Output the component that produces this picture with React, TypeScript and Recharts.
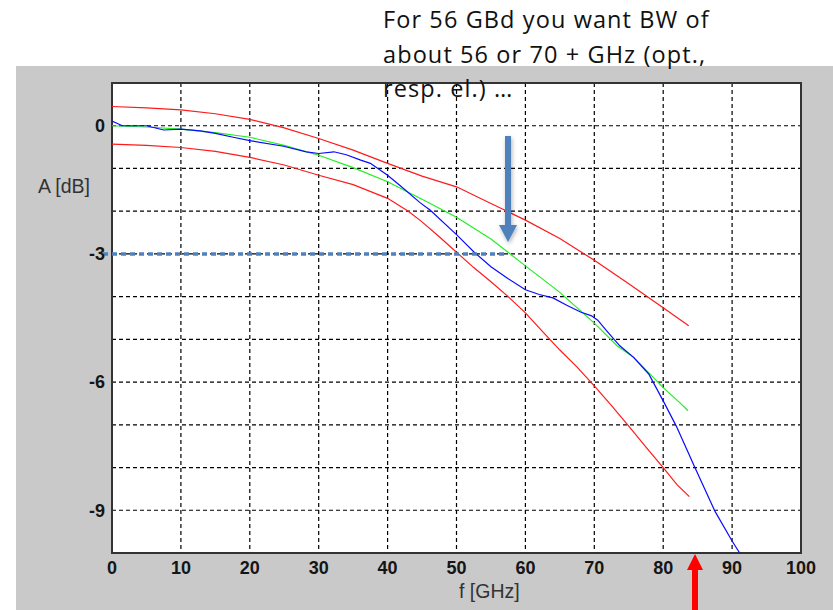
import { LineChart, Line, XAxis, YAxis, CartesianGrid, ReferenceArea, ReferenceLine } from "recharts";

// frequency grid / values (GHz, dB)
const UPPER_F = [0, 5, 10, 15, 20, 25, 30, 35, 40, 45, 50, 55, 60, 65, 70, 75, 80, 83.7];
const UPPER_A = [0.45, 0.42, 0.37, 0.28, 0.15, -0.05, -0.3, -0.57, -0.88, -1.18, -1.43, -1.82, -2.21, -2.64, -3.15, -3.7, -4.26, -4.68];

const LOWER_F = [0, 5, 10, 15, 20, 25, 30, 35, 40, 43, 45, 47.5, 50, 52.5, 55, 57.5, 60, 62.5, 65, 67.5, 70, 72.5, 75, 77.5, 80, 82, 83.8];
const LOWER_A = [-0.43, -0.46, -0.51, -0.6, -0.74, -0.92, -1.16, -1.38, -1.7, -2.0, -2.25, -2.6, -2.96, -3.32, -3.65, -4.0, -4.38, -4.82, -5.25, -5.65, -6.09, -6.55, -7.03, -7.52, -8.0, -8.4, -8.68];

const GREEN_F = [0, 5, 10, 15, 20, 25, 30, 35, 40, 45, 50, 55, 60, 65, 70, 73.3, 75.7, 77.6, 80, 82.4, 83.6];
const GREEN_A = [0, -0.03, -0.08, -0.16, -0.27, -0.46, -0.69, -0.98, -1.31, -1.72, -2.14, -2.65, -3.28, -3.9, -4.62, -5.15, -5.42, -5.73, -6.13, -6.48, -6.67];

const BLUE_F = [0, 1.5, 5, 7.5, 10, 12.8, 15, 17.6, 20, 24.9, 28.2, 30, 32.2, 34, 36, 37.5, 40, 41.8, 44.7, 46.2, 50, 52.5, 55, 57.5, 60, 62, 64, 66, 68, 69.6, 70.5, 71.8, 73.7, 75.7, 77.9, 80, 81.9, 84.6, 87.5, 90, 91.1];
const BLUE_A = [0.11, 0.0, 0.0, -0.1, -0.08, -0.12, -0.18, -0.27, -0.35, -0.48, -0.61, -0.65, -0.61, -0.68, -0.8, -0.88, -1.16, -1.4, -1.8, -1.98, -2.55, -2.95, -3.3, -3.58, -3.84, -3.95, -4.03, -4.2, -4.36, -4.45, -4.55, -4.8, -5.15, -5.42, -5.81, -6.44, -7.03, -8.0, -9.02, -9.72, -10.0];

const X_TICKS = [0, 10, 20, 30, 40, 50, 60, 70, 80, 90, 100];
const Y_TICKS = [-10, -9, -8, -7, -6, -5, -4, -3, -2, -1, 0, 1];
const Y_LABELED = [0, -3, -6, -9];

const THRESHOLD_DB = -3;
const THRESHOLD_END_F = 57.3;

const toPoints = (f: number[], a: number[]) => f.map((v, i) => ({ f: v, a: a[i] }));

const upper = toPoints(UPPER_F, UPPER_A);
const lower = toPoints(LOWER_F, LOWER_A);
const green = toPoints(GREEN_F, GREEN_A);
const blue = toPoints(BLUE_F, BLUE_A);

const tickStyle = { fontFamily: "'Liberation Sans', Arial, sans-serif", fontSize: 18, fontWeight: 700, fill: "#151515" };
const labelStyle = { fontFamily: "'Liberation Sans', Arial, sans-serif", fontSize: 19.5, color: "#333" };

export default function App() {
  return (
    <div style={{ position: "absolute", left: 0, top: 0, width: 833, height: 610, background: "#fff", overflow: "hidden" }}>
      <div style={{ position: "absolute", left: 16, top: 66, width: 817, height: 544, background: "#c9c9c9" }} />

      <div style={{ position: "absolute", left: 0, top: 0 }}>
        <LineChart width={833} height={610} margin={{ top: 83, right: 32, bottom: 27, left: 52 }}>
          <CartesianGrid fill="#fff" stroke="#000" strokeDasharray="4 3" strokeWidth={1.2} />
          <XAxis
            type="number"
            dataKey="f"
            domain={[0, 100]}
            ticks={X_TICKS}
            allowDataOverflow
            axisLine={false}
            tickLine={false}
            tickSize={0}
            tickMargin={8}
            height={30}
            tick={tickStyle}
          />
          <YAxis
            type="number"
            dataKey="a"
            domain={[-10, 1]}
            ticks={Y_TICKS}
            interval={0}
            allowDataOverflow
            axisLine={false}
            tickLine={false}
            tickSize={0}
            tickMargin={7}
            width={60}
            tick={tickStyle}
            tickFormatter={(v: number) => (Y_LABELED.includes(v) ? String(v) : "")}
          />
          <ReferenceArea x1={0} x2={100} y1={-10} y2={1} fill="none" stroke="#333" strokeWidth={2} />
          <Line data={upper} dataKey="a" type="linear" stroke="#ff1a1a" strokeWidth={1.2} dot={false} isAnimationActive={false} />
          <Line data={lower} dataKey="a" type="linear" stroke="#ff1a1a" strokeWidth={1.2} dot={false} isAnimationActive={false} />
          <Line data={green} dataKey="a" type="linear" stroke="#22ee22" strokeWidth={1.2} dot={false} isAnimationActive={false} />
          <Line data={blue} dataKey="a" type="linear" stroke="#0a0aff" strokeWidth={1.2} dot={false} isAnimationActive={false} />
          <ReferenceLine
            segment={[{ x: -1.3, y: THRESHOLD_DB }, { x: THRESHOLD_END_F, y: THRESHOLD_DB }]}
            ifOverflow="visible"
            stroke="#4f81bd"
            strokeWidth={3.5}
            strokeDasharray="5 4"
          />
        </LineChart>
      </div>

      <div style={{ ...labelStyle, position: "absolute", left: 38, top: 175 }}>A [dB]</div>
      <div style={{ ...labelStyle, position: "absolute", left: 459, top: 580 }}>f [GHz]</div>

      <svg width={833} height={610} style={{ position: "absolute", left: 0, top: 0, pointerEvents: "none" }}>
        <defs>
          <filter id="sh" x="-50%" y="-50%" width="200%" height="200%">
            <feDropShadow dx="1" dy="2" stdDeviation="2" floodColor="#000" floodOpacity="0.3" />
          </filter>
        </defs>
        <g filter="url(#sh)" fill="#4f81bd">
          <rect x={505} y={136} width={6} height={90} />
          <polygon points="499,225 517,225 508,242" />
        </g>
        <g fill="#ff0000">
          <rect x={692} y={569} width={6} height={41} />
          <polygon points="687,570 703,570 695,554" />
        </g>
      </svg>

      <div
        style={{
          position: "absolute",
          left: 383,
          top: 2,
          fontFamily: "'Open Sans', Lato, sans-serif",
          fontSize: 23.5,
          letterSpacing: 1.1,
          lineHeight: "34.5px",
          color: "#111",
          whiteSpace: "pre",
        }}
      >
        {"For 56 GBd you want BW of\nabout 56 or 70 + GHz (opt.,\nresp. el.) …"}
      </div>
    </div>
  );
}
